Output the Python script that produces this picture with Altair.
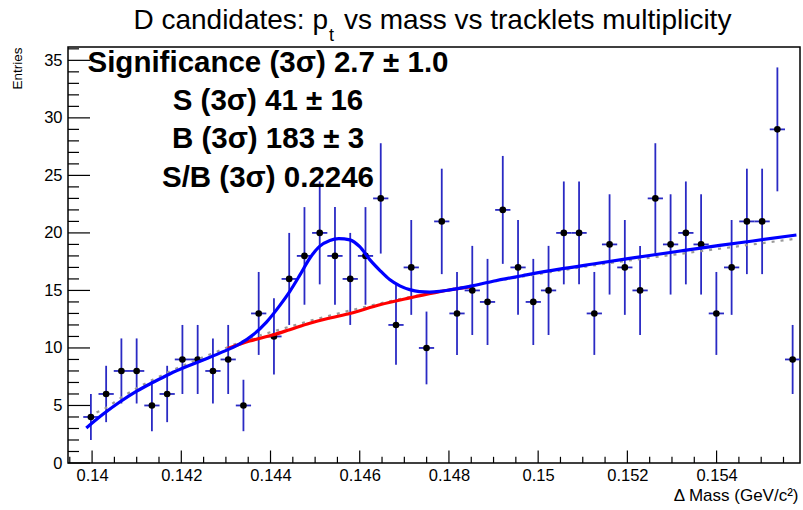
import altair as alt
import numpy as np
import pandas as pd

# Histogram binning (Delta mass, GeV/c^2)
bin_lo = 0.13946
bin_w = 0.000342
x_min, x_max = 0.13946, 0.15587
y_min, y_max = 0.0, 36.16

# Entries per bin (first bin of the axis is empty)
counts = [4, 6, 8, 8, 5, 6, 9, 9, 8, 9, 5, 13, 11, 16, 18,
          20, 18, 16, 18, 23, 12, 17, 10, 21, 13, 15, 14, 22, 17, 14,
          15, 20, 20, 13, 19, 17, 15, 23, 19, 20, 19, 13, 17, 21, 21, 29, 9]

# Total fit (background + gaussian signal)
tot_x = [0.13987, 0.14025, 0.14062, 0.14100, 0.14137, 0.14174, 0.14212, 0.14249,
         0.14286, 0.14331, 0.14361, 0.14391, 0.14421, 0.14443, 0.14466, 0.14488,
         0.14510, 0.14533, 0.14553, 0.14578, 0.14600, 0.14622, 0.14645, 0.14667,
         0.14690, 0.14712, 0.14734, 0.14757, 0.14779, 0.14802, 0.14847, 0.14899,
         0.14974, 0.15048, 0.15123, 0.15205, 0.15257, 0.15332, 0.15407, 0.15481,
         0.15579]
tot_y = [3.04, 4.25, 5.30, 6.25, 7.02, 7.74, 8.38, 8.95,
         9.55, 10.35, 11.15, 12.25, 13.70, 14.90, 16.35, 17.80,
         18.83, 19.35, 19.50, 19.40, 18.80, 17.70, 16.75, 15.95,
         15.40, 15.07, 14.90, 14.86, 14.92, 15.05, 15.35, 15.80,
         16.35, 16.85, 17.30, 17.78, 18.08, 18.50, 18.92, 19.30,
         19.82]

# Background under the signal region
bkg_x = [0.14304, 0.14353, 0.14407, 0.14443, 0.14488, 0.14533, 0.14578,
         0.14645, 0.14712, 0.14779, 0.14847]
bkg_y = [9.95, 10.60, 11.15, 11.59, 12.15, 12.60, 13.00,
         13.75, 14.35, 14.90, 15.30]

# Side-band background fit
sb_x = [0.14010, 0.14025, 0.14062, 0.14100, 0.14137, 0.14174, 0.14212, 0.14249,
        0.14286, 0.14353, 0.14421, 0.14488, 0.14578, 0.14690, 0.14847, 0.14981,
        0.15138, 0.15362, 0.15579]
sb_y = [4.40, 4.65, 5.60, 6.50, 7.25, 7.95, 8.60, 9.20,
        9.78, 10.80, 11.60, 12.35, 13.25, 14.25, 15.40, 16.30,
        17.25, 18.40, 19.50]

x_major = [0.140, 0.142, 0.144, 0.146, 0.148, 0.150, 0.152, 0.154]
x_minor = [0.1395, 0.1405, 0.1410, 0.1415, 0.1425, 0.1430, 0.1435, 0.1445,
           0.1450, 0.1455, 0.1465, 0.1470, 0.1475, 0.1485, 0.1490, 0.1495,
           0.1505, 0.1510, 0.1515, 0.1525, 0.1530, 0.1535, 0.1545, 0.1550,
           0.1555]
y_major = [0, 5, 10, 15, 20, 25, 30, 35]
y_minor = [v for v in range(0, 37) if v % 5 != 0]

stats_lines = ["Significance (3\u03c3) 2.7 \u00b1 1.0",
               "S (3\u03c3) 41 \u00b1 16",
               "B (3\u03c3) 183 \u00b1 3",
               "S/B (3\u03c3) 0.2246"]
stats_base = [71.7, 110.0, 148.3, 186.7]

W, H = 732, 416
PAD_L, PAD_T = 68, 47
FONT = "Liberation Sans"
ERR_COL = "#2a2ac4"

n = np.array(counts, dtype=float)
centers = bin_lo + bin_w * (np.arange(1, len(counts) + 1) + 0.5)
hist = pd.DataFrame({
    "x": centers, "n": n,
    "lo": n - np.sqrt(n), "hi": n + np.sqrt(n),
    "xl": centers - bin_w / 2, "xr": centers + bin_w / 2,
})

xs = alt.Scale(domain=[x_min, x_max], nice=False, zero=False)
ys = alt.Scale(domain=[y_min, y_max], nice=False, zero=False)

xax = alt.Axis(values=x_major, format=".3~f", ticks=False, domain=False, grid=False,
               labelFont=FONT, labelFontSize=16.5, labelColor="black", labelPadding=4,
               labelFlush=False,
               title="\u0394 Mass (GeV/c\u00b2)", titleFont=FONT, titleFontSize=17,
               titleFontWeight="normal", titleColor="black", titleAlign="right",
               titleBaseline="alphabetic", titleX=W - 2, titleY=37)
yax = alt.Axis(values=y_major, ticks=False, domain=False, grid=False,
               labelFont=FONT, labelFontSize=16.5, labelColor="black", labelPadding=6,
               title="Entries", titleFont=FONT, titleFontSize=13.5,
               titleFontWeight="normal", titleColor="black", titleAngle=270,
               titleAlign="right", titleBaseline="alphabetic", titleX=-47, titleY=0)


def X(field):
    return alt.X(field, type="quantitative", scale=xs, axis=xax)


def Y(field):
    return alt.Y(field, type="quantitative", scale=ys, axis=yax)


base = alt.Chart(hist)

err_v = base.mark_rule(color=ERR_COL, strokeWidth=1.8).encode(
    x=X("x"), y=Y("lo"), y2="hi")
err_h = base.mark_rule(color=ERR_COL, strokeWidth=1.8).encode(
    x=X("xl"), x2="xr", y=Y("n"))
pts = base.mark_circle(color="black", size=44, opacity=1).encode(x=X("x"), y=Y("n"))

sb_line = alt.Chart(pd.DataFrame({"x": sb_x, "y": sb_y})).mark_line(
    color="#9a9a9a", strokeWidth=2.2, strokeDash=[3, 6], interpolate="monotone"
).encode(x=X("x"), y=Y("y"))
bkg_line = alt.Chart(pd.DataFrame({"x": bkg_x, "y": bkg_y})).mark_line(
    color="#ff0000", strokeWidth=3.2, interpolate="monotone"
).encode(x=X("x"), y=Y("y"))
tot_line = alt.Chart(pd.DataFrame({"x": tot_x, "y": tot_y})).mark_line(
    color="#0000ff", strokeWidth=3.2, interpolate="monotone"
).encode(x=X("x"), y=Y("y"))

# inward-pointing ticks on the frame
xt_major = alt.Chart(pd.DataFrame({"v": x_major})).mark_rule(color="black", strokeWidth=1.2).encode(
    x=X("v"), y=alt.value(H), y2=alt.value(H - 12.5))
xt_minor = alt.Chart(pd.DataFrame({"v": x_minor})).mark_rule(color="black", strokeWidth=1.2).encode(
    x=X("v"), y=alt.value(H), y2=alt.value(H - 6.2))
yt_major = alt.Chart(pd.DataFrame({"v": y_major})).mark_rule(color="black", strokeWidth=1.2).encode(
    y=Y("v"), x=alt.value(0), x2=alt.value(22))
yt_minor = alt.Chart(pd.DataFrame({"v": y_minor})).mark_rule(color="black", strokeWidth=1.2).encode(
    y=Y("v"), x=alt.value(0), x2=alt.value(11))

stats_layers = [
    alt.Chart(pd.DataFrame({"t": [s]})).mark_text(
        font=FONT, fontSize=29.5, fontWeight="bold", color="black", align="center",
        baseline="alphabetic"
    ).encode(text="t:N", x=alt.value(268 - PAD_L), y=alt.value(b - PAD_T))
    for s, b in zip(stats_lines, stats_base)
]

title_main = alt.Chart(pd.DataFrame({"t": ["D candidates: p"]})).mark_text(
    font=FONT, fontSize=28, color="black", align="right", baseline="alphabetic"
).encode(text="t:N", x=alt.value(328 - PAD_L), y=alt.value(29 - PAD_T))
title_sub = alt.Chart(pd.DataFrame({"t": ["t"]})).mark_text(
    font=FONT, fontSize=18, color="black", align="left", baseline="alphabetic"
).encode(text="t:N", x=alt.value(329 - PAD_L), y=alt.value(40.5 - PAD_T))
title_rest = alt.Chart(pd.DataFrame({"t": ["vs mass vs tracklets multiplicity"]})).mark_text(
    font=FONT, fontSize=28, color="black", align="left", baseline="alphabetic"
).encode(text="t:N", x=alt.value(344 - PAD_L), y=alt.value(29 - PAD_T))

chart = alt.layer(
    err_v, err_h, pts, sb_line, bkg_line, tot_line,
    xt_major, xt_minor, yt_major, yt_minor,
    *stats_layers, title_main, title_sub, title_rest
).properties(
    width=W, height=H,
    autosize=alt.AutoSizeParams(type="none"),
    padding={"left": PAD_L, "top": PAD_T, "right": 803 - PAD_L - W, "bottom": 510 - PAD_T - H},
    background="white",
).configure_view(stroke="black", strokeWidth=1.5)

chart.save("out.html", embed_options={"renderer": "svg", "actions": False})
